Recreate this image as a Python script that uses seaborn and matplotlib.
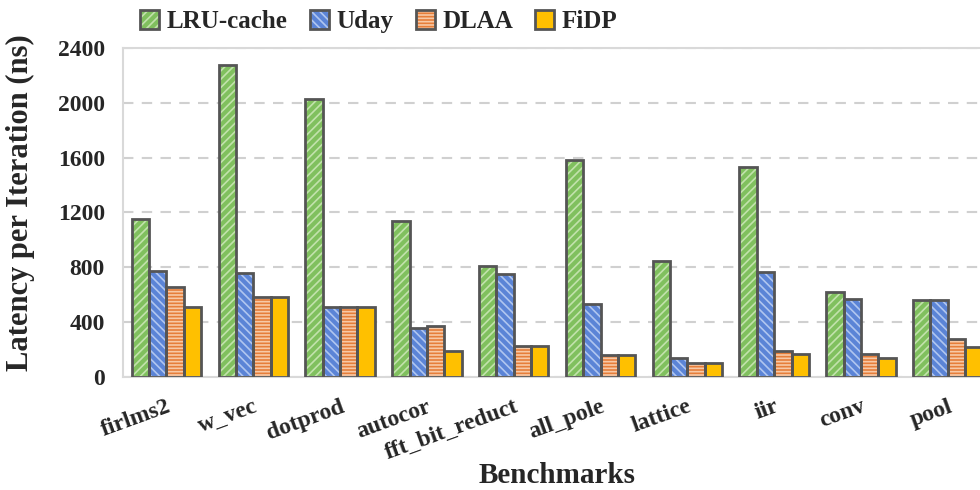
import numpy as np
import pandas as pd
import seaborn as sns
import matplotlib.pyplot as plt
from matplotlib.patches import Rectangle, Patch
from matplotlib.legend_handler import HandlerTuple

benchmarks = ['firlms2', 'w_vec', 'dotprod', 'autocor', 'fft_bit_reduct',
              'all_pole', 'lattice', 'iir', 'conv', 'pool']
methods = ['LRU-cache', 'Uday', 'DLAA', 'FiDP']
lru_cache = [1155, 2273, 2026, 1135, 807, 1584, 849, 1528, 619, 563]
uday = [776, 757, 510, 359, 752, 534, 138, 764, 566, 563]
dlaa = [655, 582, 510, 369, 225, 158, 98, 189, 170, 277]
fidp = [507, 582, 510, 189, 225, 158, 98, 163, 134, 214]
y_ticks = [0, 400, 800, 1200, 1600, 2000, 2400]

face = ['#80c05e', '#5b84d6', '#e67e3a', '#ffc000']
hatch_col = ['#c2e2ac', '#b0c6ef', '#f7c9a6', '#ffc000']
hatches = ['////', '\\\\\\\\', '-----', '']
edge = '#555555'

df = pd.DataFrame({
    'bench': benchmarks * 4,
    'method': np.repeat(methods, len(benchmarks)),
    'value': lru_cache + uday + dlaa + fidp,
})

sns.set_style('white')
plt.rcParams['font.family'] = ['Liberation Serif', 'DejaVu Serif']
plt.rcParams['font.weight'] = 'bold'
plt.rcParams['hatch.linewidth'] = 1.2

fig = plt.figure(figsize=(9.8, 4.9), dpi=100)
ax = fig.add_axes([0.1255, 0.231, 0.886, 0.671])

sns.barplot(data=df, x='bench', y='value', hue='method', palette=face,
            saturation=1, width=0.8, ax=ax, legend=False, errorbar=None)

# restyle bars: hatch in a lighter tone, dark outline on top
for i, cont in enumerate(ax.containers):
    for p in cont.patches:
        p.set_hatch(hatches[i])
        p.set_edgecolor(hatch_col[i])
        p.set_linewidth(0)
        ax.add_patch(Rectangle(p.get_xy(), p.get_width(), p.get_height(),
                               fill=False, edgecolor=edge, linewidth=2.0, zorder=3))

ax.set_ylim(0, 2400)
ax.set_xlim(-0.5, 9.5)
ax.set_yticks(y_ticks)
ax.set_yticklabels([str(t) for t in y_ticks], fontsize=17, fontweight='bold')
ax.yaxis.grid(True, color='#d0d0d0', linestyle=(0, (5, 4)), linewidth=1.5)
ax.set_axisbelow(True)
for s in ['left', 'bottom', 'top']:
    ax.spines[s].set_color('#d9d9d9')
    ax.spines[s].set_linewidth(1.5)
ax.spines['right'].set_visible(False)
ax.tick_params(axis='y', length=0, pad=13)
ax.tick_params(axis='x', length=0, pad=14)
ax.set_xticks(range(len(benchmarks)))
ax.set_xticklabels(benchmarks, fontsize=17, fontweight='bold', rotation=20,
                   ha='right', rotation_mode='anchor')

ax.set_xlabel('Benchmarks', fontsize=21, fontweight='bold', va='center')
ax.xaxis.set_label_coords(0.5, -0.3)
ax.set_ylabel('Latency per Iteration (ns)', fontsize=22, fontweight='bold', va='center')
ax.yaxis.set_label_coords(-0.118, 0.53)

handles = []
for i in range(4):
    h1 = Patch(facecolor=face[i], edgecolor=hatch_col[i], hatch=hatches[i], linewidth=0)
    h2 = Patch(fill=False, edgecolor=edge, linewidth=2.0)
    handles.append((h1, h2))
leg = fig.legend(handles, methods, loc='upper left', bbox_to_anchor=(0.128, 1.01),
                 ncol=4, frameon=False, prop={'weight': 'bold', 'size': 18},
                 handler_map={tuple: HandlerTuple(ndivide=1, pad=0)},
                 handlelength=0.75, handleheight=0.75, handletextpad=0.3,
                 columnspacing=0.9, borderaxespad=0.2)

fig.savefig('out.png', dpi=100)
